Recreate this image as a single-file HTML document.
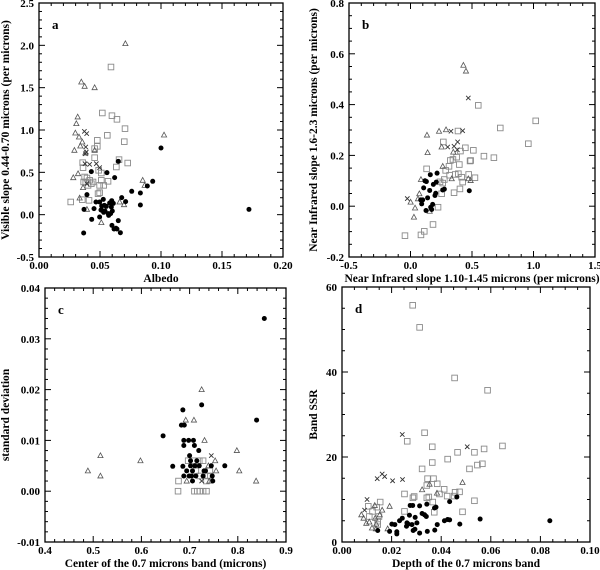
<!DOCTYPE html>
<html><head><meta charset="utf-8"><style>
body{margin:0;background:#fff}
svg{display:block;font-family:"Liberation Serif",serif;font-weight:bold}
</style></head><body>
<svg id="c" width="600" height="570" xmlns="http://www.w3.org/2000/svg"></svg>
<script>
// Panel a: albedo vs visible slope
const aCircles=[[0.0366,-0.217],[0.0369,0.063],[0.0393,0.236],[0.0429,0.508],[0.0432,-0.055],[0.0451,0.071],[0.0467,0.150],[0.0497,-0.028],[0.0497,0.150],[0.0508,0.055],[0.0514,0.102],[0.0516,0.051],[0.0527,0.181],[0.0530,0.028],[0.0536,0.110],[0.0541,0.043],[0.0552,0.098],[0.0557,0.496],[0.0568,0.012],[0.0571,-0.008],[0.0579,0.138],[0.0587,0.012],[0.0593,0.091],[0.0596,0.165],[0.0598,-0.126],[0.0601,0.043],[0.0609,0.134],[0.0620,0.437],[0.0615,-0.169],[0.0631,-0.161],[0.0639,-0.169],[0.0650,0.630],[0.0650,-0.071],[0.0667,-0.213],[0.0678,0.201],[0.0710,0.154],[0.0760,0.276],[0.0831,0.256],[0.0831,0.114],[0.0888,0.339],[0.0932,0.394],[0.1000,0.787],[0.1721,0.063]];
const aSquares=[[0.0260,0.150],[0.0355,0.177],[0.0358,0.614],[0.0361,0.555],[0.0366,0.386],[0.0374,0.445],[0.0383,0.386],[0.0393,0.433],[0.0402,0.346],[0.0410,0.169],[0.0415,0.406],[0.0429,0.366],[0.0443,0.386],[0.0456,0.673],[0.0456,0.780],[0.0478,0.878],[0.0478,0.807],[0.0484,0.248],[0.0489,0.524],[0.0497,0.260],[0.0497,0.346],[0.0511,0.492],[0.0511,0.406],[0.0519,1.201],[0.0530,0.346],[0.0560,0.937],[0.0566,0.394],[0.0590,1.744],[0.0598,1.169],[0.0634,0.563],[0.0639,1.126],[0.0656,0.650],[0.0699,0.862],[0.0705,1.016],[0.0727,0.610]];
const aTriangles=[[0.0281,0.437],[0.0290,0.760],[0.0298,0.965],[0.0306,1.075],[0.0317,1.154],[0.0320,0.484],[0.0328,0.917],[0.0333,0.197],[0.0339,0.811],[0.0347,1.567],[0.0355,0.858],[0.0361,0.319],[0.0374,1.516],[0.0380,0.728],[0.0393,0.063],[0.0456,1.500],[0.0456,0.760],[0.0511,-0.094],[0.0661,0.150],[0.0697,0.118],[0.0708,2.020],[0.0850,0.406],[0.1025,0.941],[0.0866,0.346]];
const aCrosses=[[0.0372,0.984],[0.0391,0.957],[0.0383,0.799],[0.0380,0.720],[0.0377,0.602],[0.0415,0.594],[0.0470,0.602],[0.0497,0.555],[0.0388,0.740],[0.0393,0.366]];
// Panel b: NIR slopes
const bCircles=[[0.118,0.100],[0.107,0.072],[0.083,0.025],[0.091,0.009],[0.099,0.025],[0.126,-0.017],[0.139,0.033],[0.129,0.097],[0.156,0.062],[0.161,0.124],[0.172,-0.013],[0.180,0.007],[0.186,0.086],[0.199,0.042],[0.205,0.051],[0.210,0.095],[0.216,0.130],[0.262,0.064],[0.275,0.067],[0.478,0.061],[0.164,-0.004]];
const bSquares=[[-0.045,-0.116],[0.085,-0.113],[0.112,-0.099],[0.131,0.147],[0.183,-0.072],[0.224,-0.004],[0.240,0.096],[0.253,0.049],[0.262,0.091],[0.267,0.253],[0.275,0.105],[0.286,0.141],[0.313,0.157],[0.318,0.122],[0.324,0.180],[0.345,0.184],[0.354,0.053],[0.364,0.125],[0.375,0.193],[0.386,0.296],[0.397,0.164],[0.402,0.068],[0.406,0.217],[0.416,0.114],[0.424,0.095],[0.446,0.230],[0.473,0.125],[0.484,0.178],[0.489,0.180],[0.511,0.220],[0.524,0.112],[0.551,0.397],[0.597,0.197],[0.678,0.191],[0.730,0.308],[0.958,0.246],[1.018,0.336],[0.389,0.128]];
const bTriangles=[[0.028,-0.043],[0.037,-0.007],[0.001,0.016],[0.061,0.029],[0.085,0.105],[0.072,0.049],[0.134,0.280],[0.139,0.211],[0.156,-0.020],[0.232,0.295],[0.253,0.233],[0.262,0.157],[0.289,0.301],[0.348,0.213],[0.335,0.108],[0.430,0.555],[0.451,0.532],[0.470,0.108],[0.489,0.101]];
const bCrosses=[[-0.026,0.030],[0.302,0.233],[0.329,0.295],[0.381,0.222],[0.383,0.253],[0.424,0.297],[0.470,0.426],[0.354,0.236]];
// Panel c: band center vs std dev
const cCircles=[[0.645,0.0109],[0.665,0.0049],[0.686,0.0049],[0.686,0.016],[0.683,0.013],[0.689,0.013],[0.688,0.010],[0.688,0.009],[0.688,0.003],[0.694,0.004],[0.698,0.010],[0.700,0.007],[0.702,0.006],[0.702,0.005],[0.704,0.003],[0.706,0.004],[0.708,0.010],[0.710,0.009],[0.711,0.005],[0.713,0.003],[0.719,0.008],[0.720,0.005],[0.725,0.017],[0.728,0.003],[0.733,0.004],[0.745,0.005],[0.747,0.003],[0.748,0.002],[0.773,0.005],[0.839,0.014],[0.855,0.034],[0.699,0.003],[0.706,0.002],[0.715,0.006],[0.730,0.004]];
const cSquares=[[0.677,0.002],[0.676,0.000],[0.697,0.006],[0.709,0.006],[0.720,0.006],[0.728,0.006],[0.713,0.004],[0.721,0.003],[0.738,0.003],[0.710,0],[0.716,0],[0.721,0],[0.728,0],[0.735,0],[0.742,0.004],[0.743,0.003],[0.735,0.002]];
const cTriangles=[[0.489,0.004],[0.515,0.007],[0.515,0.003],[0.598,0.006],[0.692,0.014],[0.709,0.014],[0.725,0.020],[0.731,0.010],[0.753,0.006],[0.755,0.004],[0.798,0.008],[0.803,0.004],[0.838,0.002],[0.694,0.002],[0.741,0.002],[0.739,0.005]];
const cCrosses=[[0.745,0.007],[0.725,0.002]];
// Panel d: band depth vs SSR
const dCircles=[[0.0144,2.7],[0.0192,2.5],[0.0201,4.2],[0.0213,4.1],[0.0221,2.4],[0.0221,1.9],[0.0232,5.0],[0.0243,5.6],[0.0260,3.7],[0.0262,4.5],[0.0267,4.2],[0.0272,6.3],[0.0275,8.6],[0.0282,4.1],[0.0285,8.6],[0.0287,2.7],[0.0294,3.0],[0.0295,5.8],[0.0302,4.5],[0.0313,2.1],[0.0313,8.5],[0.0323,6.7],[0.0333,6.4],[0.0340,6.0],[0.0342,8.9],[0.0344,2.5],[0.0373,8.0],[0.0374,2.8],[0.0384,4.1],[0.0413,5.0],[0.0426,5.3],[0.0434,5.2],[0.0434,9.5],[0.0463,10.6],[0.0475,4.2],[0.0557,5.4],[0.0838,5.0],[0.0379,8.2]];
const dSquares=[[0.0285,55.7],[0.0313,50.5],[0.0454,38.6],[0.0587,35.7],[0.0333,25.7],[0.0263,23.7],[0.0364,22.4],[0.0647,22.6],[0.0573,21.9],[0.0466,21.1],[0.0534,21.1],[0.0426,19.5],[0.0364,18.7],[0.0566,18.4],[0.0546,18.1],[0.0514,17.2],[0.0323,17.2],[0.0345,14.9],[0.0369,14.9],[0.0342,13.3],[0.0384,13.7],[0.0412,12.4],[0.0252,11.3],[0.0456,11.7],[0.0474,11.8],[0.0393,11.3],[0.0424,10.8],[0.0452,10.8],[0.0291,10.7],[0.0350,10.6],[0.0286,10.4],[0.0534,9.7],[0.0154,9.4],[0.0366,9.4],[0.0140,8.2],[0.0106,8.4],[0.0123,7.2],[0.0252,7.2],[0.0372,7.0],[0.0486,7.1],[0.0342,10.4],[0.0110,6.0],[0.0149,6.0],[0.0144,4.9],[0.0144,4.1]];
const dTriangles=[[0.0078,6.4],[0.0087,5.6],[0.0098,4.4],[0.0110,4.7],[0.0132,8.6],[0.0134,5.6],[0.0138,4.2],[0.0121,3.3],[0.0152,6.4],[0.0162,7.5],[0.0192,8.4],[0.0184,3.1],[0.0323,12.3],[0.0353,13.6],[0.0383,11.5],[0.0486,14.0],[0.0137,3.1]];
const dCrosses=[[0.0101,10.0],[0.0091,7.5],[0.0142,14.9],[0.0162,16.0],[0.0172,15.4],[0.0204,14.4],[0.0243,25.3],[0.0244,14.7],[0.0505,22.4]];

const aXTicks=["0.00","0.05","0.10","0.15","0.20"], aYTicks=["-0.5","0.0","0.5","1.0","1.5","2.0","2.5"];
const bXTicks=["-0.5","0.0","0.5","1.0","1.5"], bYTicks=["-0.2","0.0","0.2","0.4","0.6","0.8"];
const cXTicks=["0.4","0.5","0.6","0.7","0.8","0.9"], cYTicks=["-0.01","0.00","0.01","0.02","0.03","0.04"];
const dXTicks=["0.00","0.02","0.04","0.06","0.08","0.10"], dYTicks=["0","20","40","60"];

const NS="http://www.w3.org/2000/svg", svg=document.getElementById('c');
function mk(tag,attrs,parent){const e=document.createElementNS(NS,tag);for(const k in attrs)e.setAttribute(k,attrs[k]);(parent||svg).appendChild(e);return e;}

function panel(cfg){
  const g=mk('g',{});
  
  
  const {L,R,T,B,x0,x1,y0,y1}=cfg;
  const sx=v=>L+(v-x0)/(x1-x0)*(R-L), sy=v=>B-(v-y0)/(y1-y0)*(B-T);
  const frame=mk('rect',{x:L,y:T,width:R-L,height:B-T,fill:'none',stroke:'#000','stroke-width':1.3},g);
  
  
  const nxm=Math.round((x1-x0)/cfg.xMinor);
  for(let i=0;i<=nxm;i++){const v=x0+i*cfg.xMinor, X=sx(v);
    const maj=Math.abs(((v-x0)/cfg.xMajor)-Math.round((v-x0)/cfg.xMajor))<1e-6; const len=maj?6:3;
    mk('line',{x1:X,x2:X,y1:B,y2:B-len,stroke:'#000','stroke-width':1},g);
    mk('line',{x1:X,x2:X,y1:T,y2:T+len,stroke:'#000','stroke-width':1},g);}
  const nym=Math.round((y1-y0)/cfg.yMinor);
  for(let i=0;i<=nym;i++){const v=y0+i*cfg.yMinor, Y=sy(v);
    const maj=Math.abs(((v-y0)/cfg.yMajor)-Math.round((v-y0)/cfg.yMajor))<1e-6; const len=maj?6:3;
    mk('line',{x1:L,x2:L+len,y1:Y,y2:Y,stroke:'#000','stroke-width':1},g);
    mk('line',{x1:R,x2:R-len,y1:Y,y2:Y,stroke:'#000','stroke-width':1},g);}
  cfg.xTicks.forEach((t,i)=>{const X=sx(x0+i*cfg.xMajor);
    const e=mk('text',{x:X,y:B+12,'text-anchor':'middle','font-size':11},g);e.textContent=t;
    
    });
  cfg.yTicks.forEach((t,i)=>{const Y=sy(y0+i*cfg.yMajor);
    const e=mk('text',{x:L-5,y:Y+4,'text-anchor':'end','font-size':11},g);e.textContent=t;
    
    });
  const xt=mk('text',{x:(L+R)/2,y:B+25,'text-anchor':'middle','font-size':11.5},g);xt.textContent=cfg.xTitle;
  
  
  const yt=mk('text',{x:0,y:0,'text-anchor':'middle','font-size':11.5,transform:`translate(${cfg.yTitleX},${(T+B)/2}) rotate(-90)`},g);yt.textContent=cfg.yTitle;
  
  
  const lt=mk('text',{x:L+13,y:T+26,'font-size':13},g);lt.textContent=cfg.id;
  
  
  cfg.sq.forEach(p=>{const e=mk('rect',{x:sx(p[0])-2.8,y:sy(p[1])-2.8,width:5.6,height:5.6,fill:'none',stroke:'#8a8a8a','stroke-width':0.9},g);
    
    });
  cfg.tr.forEach(p=>{const X=sx(p[0]),Y=sy(p[1]);const e=mk('polygon',{points:`${X},${Y-2.8} ${X-2.6},${Y+2} ${X+2.6},${Y+2}`,fill:'none',stroke:'#555','stroke-width':0.8},g);
    
    });
  cfg.cr.forEach(p=>{const X=sx(p[0]),Y=sy(p[1]);const e=mk('path',{d:`M${X-2.2},${Y-2.2}L${X+2.2},${Y+2.2}M${X-2.2},${Y+2.2}L${X+2.2},${Y-2.2}`,stroke:'#333','stroke-width':0.9},g);
    
    });
  cfg.ci.forEach(p=>{const e=mk('circle',{cx:sx(p[0]),cy:sy(p[1]),r:2.5,fill:'#000'},g);
    
    });
}
panel({id:'a',L:39,R:283,T:3,B:257,x0:0,x1:0.2,y0:-0.5,y1:2.5,xMajor:0.05,xMinor:0.01,yMajor:0.5,yMinor:0.1,xTicks:aXTicks,yTicks:aYTicks,xTitle:'Albedo',yTitle:'Visible slope 0.44-0.70 microns (per microns)',yTitleX:9,ci:aCircles,sq:aSquares,tr:aTriangles,cr:aCrosses});
panel({id:'b',L:349,R:595,T:3,B:257,x0:-0.5,x1:1.5,y0:-0.2,y1:0.8,xMajor:0.5,xMinor:0.1,yMajor:0.2,yMinor:0.05,xTicks:bXTicks,yTicks:bYTicks,xTitle:'Near Infrared slope 1.10-1.45 microns (per microns)',yTitle:'Near Infrared slope 1.6-2.3 microns (per microns)',yTitleX:317,ci:bCircles,sq:bSquares,tr:bTriangles,cr:bCrosses});
panel({id:'c',L:45,R:286,T:288,B:542,x0:0.4,x1:0.9,y0:-0.01,y1:0.04,xMajor:0.1,xMinor:0.02,yMajor:0.01,yMinor:0.002,xTicks:cXTicks,yTicks:cYTicks,xTitle:'Center of the 0.7 microns band (microns)',yTitle:'standard deviation',yTitleX:9,ci:cCircles,sq:cSquares,tr:cTriangles,cr:cCrosses});
panel({id:'d',L:342,R:590,T:287,B:542,x0:0,x1:0.1,y0:0,y1:60,xMajor:0.02,xMinor:0.005,yMajor:20,yMinor:5,xTicks:dXTicks,yTicks:dYTicks,xTitle:'Depth of the 0.7 microns band',yTitle:'Band SSR',yTitleX:317,ci:dCircles,sq:dSquares,tr:dTriangles,cr:dCrosses});
</script>
</body></html>
